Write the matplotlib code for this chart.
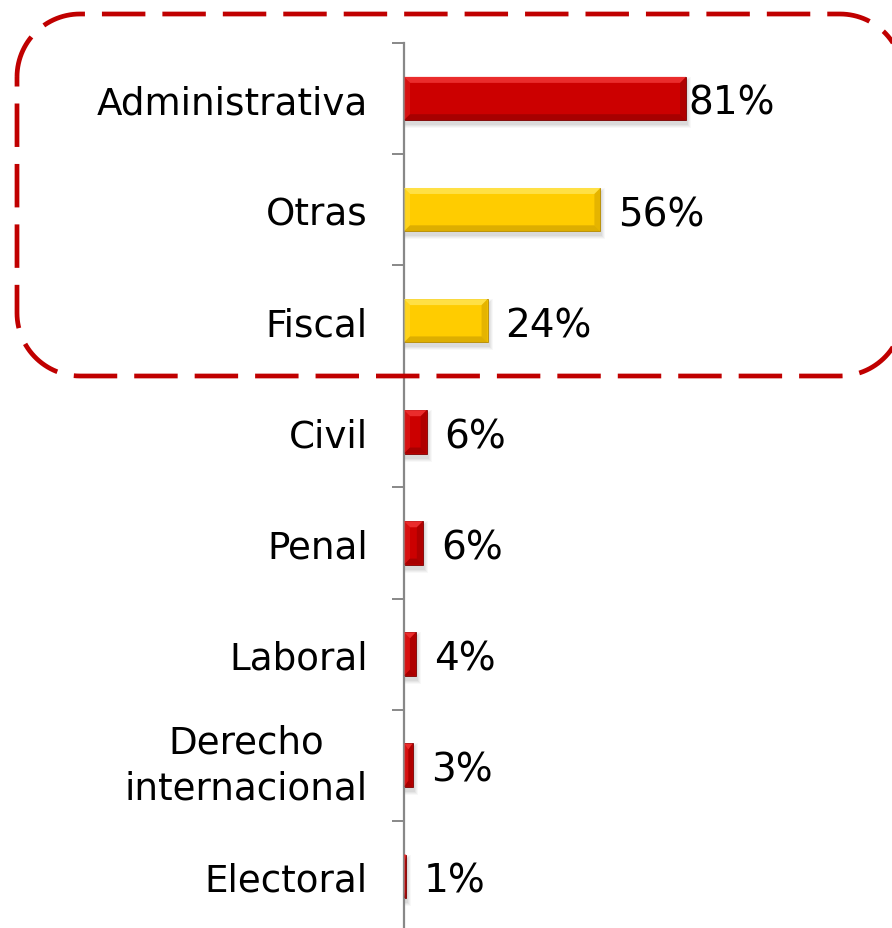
import numpy as np
import matplotlib
matplotlib.use("Agg")
import matplotlib.pyplot as plt
from matplotlib.patches import Polygon, Rectangle
from matplotlib.lines import Line2D
from matplotlib.transforms import IdentityTransform

# data
categories = ["Administrativa", "Otras", "Fiscal", "Civil", "Penal",
              "Laboral", "Derecho\ninternacional", "Electoral"]
values = [81, 56.4, 24, 6.5, 5.4, 3.4, 2.5, 0.6]
value_labels = ["81%", "56%", "24%", "6%", "6%", "4%", "3%", "1%"]
groups = ["red", "yellow", "yellow", "red", "red", "red", "red", "red"]

# colours: (main, light bevel, dark bevel)
palette = {
    "red": ("#CC0000", "#EA2C2C", "#7A0000"),
    "yellow": ("#FFCC00", "#FFE045", "#B58A00"),
}

W, H = 892, 929
fig = plt.figure(figsize=(W / 100, H / 100), dpi=100)

# axes placed in pixel terms
ax_left, ax_top = 404, 44
ax_w = W - ax_left
ax_h = 888.8
ax = fig.add_axes([ax_left / W, (H - ax_top - ax_h) / H, ax_w / W, ax_h / H])

px_per_pct = 3.482
xmax = ax_w / px_per_pct
n = len(categories)
ax.set_xlim(0, xmax)
ax.set_ylim(n - 0.5, -0.5)

dx = xmax / ax_w      # data units per pixel (x)
dy = n / ax_h         # data units per pixel (y)

ypos = np.arange(n)
bar_h = 0.39

# soft shadow first
for i, v in enumerate(values):
    for k, a in zip(range(4), [0.04, 0.05, 0.06, 0.07]):
        grow = 4 - k
        ax.add_patch(Rectangle((0, i - bar_h / 2 + 4 * dy - grow * dy),
                               v + (1 + grow) * dx, bar_h + 2 * grow * dy,
                               facecolor="#555555", edgecolor="none",
                               alpha=a, zorder=1))

bars = ax.barh(ypos, values, height=bar_h,
               color=[palette[g][0] for g in groups],
               edgecolor=[palette[g][2] for g in groups],
               linewidth=0.6, zorder=2)

# bevel strips
for rect, g in zip(bars, groups):
    main, light, dark = palette[g]
    x0, y0 = rect.get_x(), rect.get_y()
    x1, y1 = x0 + rect.get_width(), y0 + rect.get_height()
    bx = min(6 * dx, rect.get_width() / 2)
    by = 6 * dy
    top = [(x0, y0), (x1, y0), (x1 - bx, y0 + by), (x0 + bx, y0 + by)]
    left = [(x0, y0), (x0 + bx, y0 + by), (x0 + bx, y1 - by), (x0, y1)]
    bottom = [(x0, y1), (x1, y1), (x1 - bx, y1 - by), (x0 + bx, y1 - by)]
    right = [(x1, y0), (x1 - bx, y0 + by), (x1 - bx, y1 - by), (x1, y1)]
    ax.add_patch(Polygon(top, closed=True, facecolor=light, edgecolor="none", zorder=3))
    ax.add_patch(Polygon(left, closed=True, facecolor=light, edgecolor="none", alpha=0.4, zorder=3))
    ax.add_patch(Polygon(bottom, closed=True, facecolor=dark, edgecolor="none", alpha=0.45, zorder=3))
    ax.add_patch(Polygon(right, closed=True, facecolor=dark, edgecolor="none", alpha=0.35, zorder=3))

# value labels
vmax = max(values)
for i, (v, lab) in enumerate(zip(values, value_labels)):
    off = 2 if v == vmax else 18
    ax.text(v + off * dx, i + 0.04, lab, fontsize=28, va="center", ha="left",
            color="black", zorder=4)

# axis styling
for s in ["top", "right", "bottom"]:
    ax.spines[s].set_visible(False)
ax.spines["left"].set_color("#888888")
ax.spines["left"].set_linewidth(1.6)
ax.set_xticks([])
ax.set_yticks(ypos)
ax.set_yticklabels(categories, fontsize=26.8, multialignment="center",
                   linespacing=1.3)
for tl in ax.get_yticklabels():
    if "\n" in tl.get_text():
        tl.set_va("center")
ax.tick_params(axis="y", which="major", length=0, pad=26)
ax.set_yticks(np.arange(n + 1) - 0.5, minor=True)
ax.tick_params(axis="y", which="minor", length=8.6, width=1.4, color="#888888")
ax.patch.set_alpha(0)

# dashed highlight frame, in display pixels (origin bottom-left)
fx0, fx1, fy_top, fy_bot, rad = 17, 903, 15, 377, 63
yb, yt = H - fy_bot, H - fy_top
def arc(cx, cy, a0, a1):
    t = np.radians(np.linspace(a0, a1, 30))
    return list(zip(cx + rad * np.cos(t), cy + rad * np.sin(t)))
pts = (arc(fx0 + rad, yt - rad, 180, 90)
       + arc(fx1 - rad, yt - rad, 90, 0)
       + arc(fx1 - rad, yb + rad, 0, -90)
       + arc(fx0 + rad, yb + rad, -90, -180))
pts.append(pts[0])
fxs, fys = zip(*pts)
frame = Line2D(fxs, fys, transform=IdentityTransform(), color="#C00000",
               linewidth=3.4, linestyle=(0, (9.2, 3.6)),
               dash_capstyle="butt", zorder=10)
fig.add_artist(frame)

fig.savefig("out.png", dpi=100)
